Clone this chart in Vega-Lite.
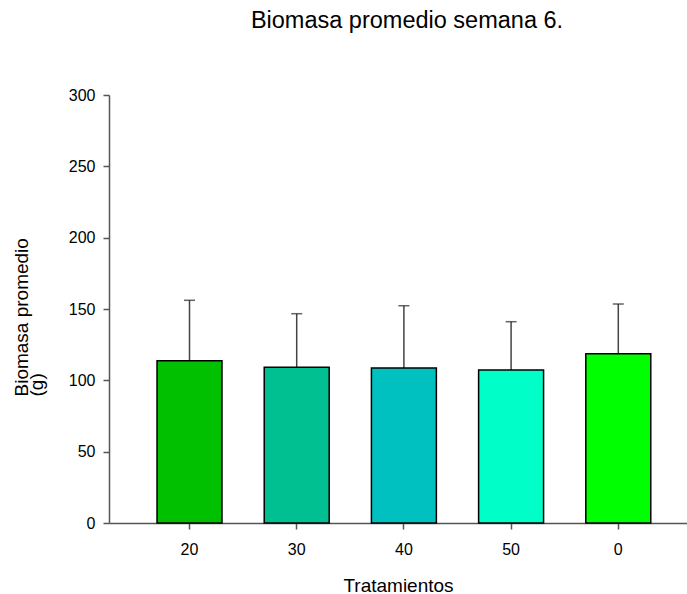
{
  "$schema": "https://vega.github.io/schema/vega-lite/v6.json",
  "width": 578,
  "height": 428,
  "autosize": {"type": "none"},
  "padding": {"left": 109, "top": 95, "right": 0, "bottom": 71},
  "background": "white",
  "title": {
    "text": "Biomasa promedio semana 6.",
    "font": "Liberation Sans",
    "fontSize": 23.5,
    "fontWeight": "normal",
    "color": "black",
    "anchor": "middle",
    "frame": "group",
    "baseline": "alphabetic",
    "offset": 36,
    "dx": 9
  },
  "config": {
    "view": {"stroke": null},
    "font": "Liberation Sans",
    "axis": {
      "grid": false,
      "domainColor": "#555555",
      "domainWidth": 1.5,
      "tickColor": "#555555",
      "tickWidth": 1.5,
      "tickSize": 6,
      "labelFont": "Liberation Sans",
      "labelFontSize": 16,
      "labelColor": "black",
      "titleFont": "Liberation Sans",
      "titleFontSize": 19,
      "titleFontWeight": "normal",
      "titleColor": "black"
    }
  },
  "data": {
    "values": [
      {"tratamiento": "20", "biomasa": 113.8, "limite_sup": 156.1},
      {"tratamiento": "30", "biomasa": 109.1, "limite_sup": 146.7},
      {"tratamiento": "40", "biomasa": 108.6, "limite_sup": 152.3},
      {"tratamiento": "50", "biomasa": 107.2, "limite_sup": 141.1},
      {"tratamiento": "0", "biomasa": 118.7, "limite_sup": 153.5}
    ]
  },
  "encoding": {
    "x": {
      "field": "tratamiento",
      "type": "nominal",
      "sort": ["20", "30", "40", "50", "0"],
      "scale": {"paddingInner": 0.394, "paddingOuter": 0.393, "align": 0.57},
      "axis": {
        "title": "Tratamientos",
        "labelAngle": 0,
        "labelPadding": 12,
        "titlePadding": 19
      }
    }
  },
  "layer": [
    {
      "mark": {"type": "rule", "color": "#444444", "strokeWidth": 1.5},
      "encoding": {
        "y": {"field": "biomasa", "type": "quantitative"},
        "y2": {"field": "limite_sup"}
      }
    },
    {
      "mark": {"type": "tick", "color": "#222222", "thickness": 1.5, "size": 11},
      "encoding": {
        "y": {"field": "limite_sup", "type": "quantitative"}
      }
    },
    {
      "mark": {"type": "bar", "stroke": "black", "strokeWidth": 1.5},
      "encoding": {
        "y": {
          "field": "biomasa",
          "type": "quantitative",
          "scale": {"domain": [0, 300], "nice": false},
          "axis": {
            "values": [0, 50, 100, 150, 200, 250, 300],
            "labelPadding": 8,
            "title": ["Biomasa promedio", "(g)"],
            "titleAngle": -90,
            "titleAlign": "left",
            "titleBaseline": "alphabetic",
            "titleLineHeight": 15,
            "titleX": -82,
            "titleY": 301
          }
        },
        "color": {
          "field": "tratamiento",
          "type": "nominal",
          "scale": {
            "domain": ["20", "30", "40", "50", "0"],
            "range": ["#00C000", "#00C092", "#00C0C0", "#00FFC8", "#00FF00"]
          },
          "legend": null
        }
      }
    }
  ]
}
